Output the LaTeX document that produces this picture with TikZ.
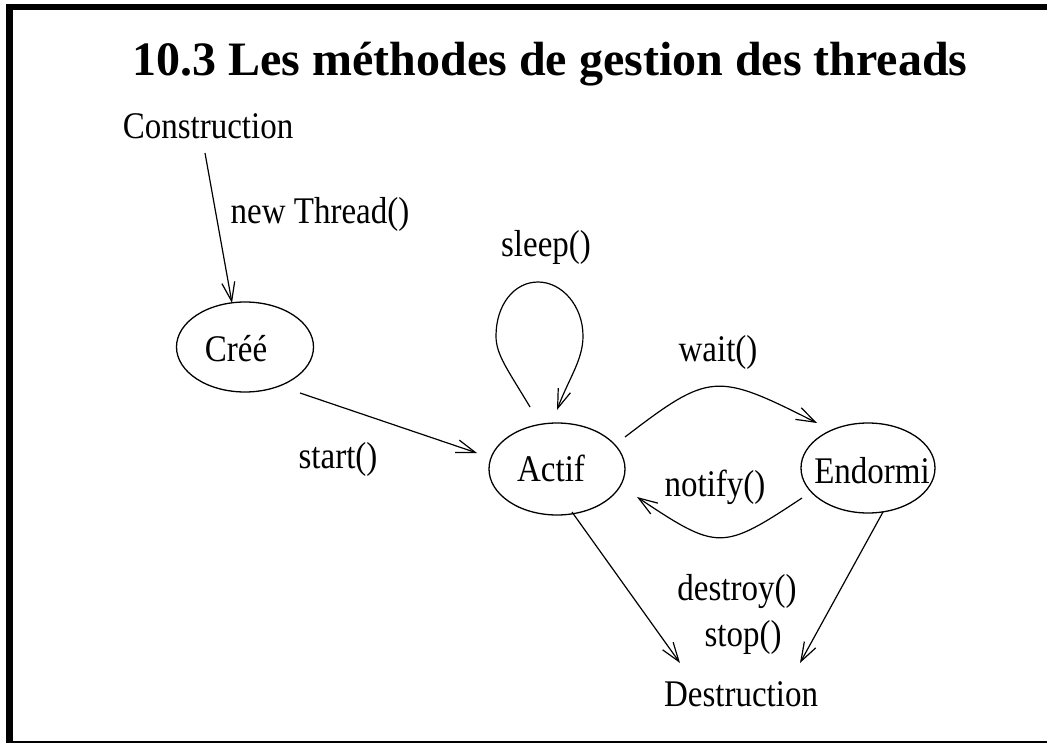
\documentclass[tikz,border=0pt]{standalone}
\usepackage{fontspec}
\usepackage{graphicx}
\setmainfont{Liberation Serif}
\usetikzlibrary{arrows.meta,shapes.geometric}
\newcommand\tallt[1]{\scalebox{1}[1.14]{#1}}
\begin{document}
\begin{tikzpicture}[x=1pt,y=-1pt,
  txt/.style={inner sep=0pt,anchor=base,font=\fontsize{33}{40}\selectfont},
  state/.style={draw,ellipse,line width=1.3pt,inner sep=0pt},
  conn/.style={line width=1.2pt,-{Straight Barb[length=19pt,width=13pt,line width=1.2pt]}}]
\path[use as bounding box] (0,0) rectangle (1047,743);
% frame
\fill (6,4) rectangle (13,743);
\fill (6,4) rectangle (1047,10.5);
\fill (6,741) rectangle (1047,742.6);
% title
\node[inner sep=0pt,anchor=base,font=\fontsize{48}{56}\bfseries\selectfont] (title) at (550,76) {10.3 Les méthodes de gestion des threads};
% states
\node[txt] (cons) at (208,138.3) {\tallt{Construction}};
\node[txt] (destr) at (741,706.7) {\tallt{Destruction}};
\node[state,minimum width=137pt,minimum height=90pt] (cree) at (245,347) {};
\node[txt] (creet) at (236,361.7) {\tallt{Créé}};
\node[state,minimum width=136pt,minimum height=92pt] (actif) at (557,469) {};
\node[txt] (actift) at (551,481.7) {\tallt{Actif}};
\node[state,minimum width=134pt,minimum height=90pt] (endormi) at (868,468) {};
\node[txt] (endormit) at (872,483) {\tallt{Endormi}};
% labels
\node[txt] (lnew) at (320,224) {\tallt{new Thread()}};
\node[txt] (lstart) at (338,468) {\tallt{start()}};
\node[txt] (lsleep) at (546,257) {\tallt{sleep()}};
\node[txt] (lwait) at (718,361.7) {\tallt{wait()}};
\node[txt] (lnotify) at (715,496.7) {\tallt{notify()}};
\node[txt] (ldestroy) at (737,600) {\tallt{destroy()}};
\node[txt] (lstop) at (743,646.7) {\tallt{stop()}};
% connector end points
\coordinate (consout) at (205,153);
\coordinate (creein) at (232,303);
\coordinate (creeout) at (300,393);
\coordinate (actifin) at (477,453);
\coordinate (sleepout) at (530,407);
\coordinate (sleepl) at (496,336);
\coordinate (sleeptop) at (538,282);
\coordinate (sleepr) at (583,336);
\coordinate (sleepin) at (557,410);
\coordinate (waitout) at (625,437);
\coordinate (waitin) at (817,423);
\coordinate (notout) at (802,498);
\coordinate (notin) at (637,497);
\coordinate (actifout) at (572,512);
\coordinate (destrinA) at (680,663);
\coordinate (endout) at (883,512);
\coordinate (destrinB) at (800,663);
% connectors
\draw[conn] (consout) -- (creein);
\draw[conn] (creeout) -- (actifin);
\draw[conn] (sleepout) .. controls (508,370) and (496,355) .. (sleepl)
  .. controls (496,305) and (514,282) .. (sleeptop)
  .. controls (562,282) and (583,306) .. (sleepr)
  .. controls (583,360) and (569,378) .. (sleepin);
\draw[conn] (waitout) .. controls (710,372) and (716,372) .. (waitin);
\draw[conn] (notout) .. controls (722,551) and (718,551) .. (notin);
\draw[conn] (actifout) -- (destrinA);
\draw[conn] (endout) -- (destrinB);
\end{tikzpicture}
\end{document}
